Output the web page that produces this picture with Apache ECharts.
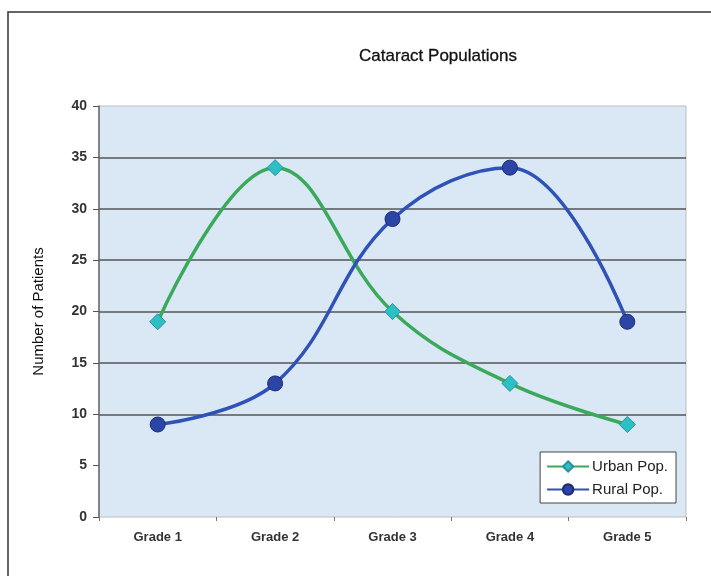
<!DOCTYPE html>
<html>
<head>
<meta charset="utf-8">
<script src="https://cdn.jsdelivr.net/npm/echarts@6/dist/echarts.min.js"></script>
<style>
    html, body { margin: 0; padding: 0; background: #fff; }
    #chart { width: 711px; height: 576px; }
</style>
</head>
<body>
<div id="chart"></div>
<script>
    var categories = ['Grade 1', 'Grade 2', 'Grade 3', 'Grade 4', 'Grade 5'];
    var urbanPop = [19, 34, 20, 13, 9];
    var ruralPop = [9, 13, 29, 34, 19];
    var yTicks = [0, 40, 5];  // min, max, interval

    var chart = echarts.init(document.getElementById('chart'));

    // grid lines only between 10 and 35, like the original
    var gridColors = [];
    for (var v = yTicks[0]; v <= yTicks[1]; v += yTicks[2]) {
        gridColors.push(v >= 10 && v <= 35 ? '#555' : 'rgba(0,0,0,0)');
    }

    var option = {
        backgroundColor: '#fff',
        animation: false,
        textStyle: { fontFamily: 'Liberation Sans, Arial, sans-serif' },
        graphic: [
            {
                type: 'rect',
                shape: { x: 8, y: 12, width: 720, height: 590 },
                style: { fill: 'none', stroke: '#333', lineWidth: 1.5 },
                z: -1
            }
        ],
        title: {
            text: 'Cataract Populations',
            left: 433,
            top: 43,
            textAlign: 'center',
            textStyle: { fontSize: 17, fontWeight: 'normal', color: '#111', textBorderColor: '#111', textBorderWidth: 0.3 }
        },
        legend: {
            right: 35,
            top: 452,
            orient: 'vertical',
            itemWidth: 42,
            itemHeight: 13,
            itemGap: 8,
            padding: [7, 8, 6, 6],
            backgroundColor: '#fff',
            borderColor: '#444',
            borderWidth: 1,
            textStyle: { fontSize: 15, color: '#222', padding: [0, 0, 0, -2] },
            data: ['Urban Pop.', 'Rural Pop.']
        },
        grid: {
            left: 99,
            right: 25,
            top: 106,
            bottom: 59,
            show: true,
            backgroundColor: '#dae8f6',
            borderColor: '#bdbdbd',
            borderWidth: 1
        },
        xAxis: {
            type: 'category',
            data: categories,
            boundaryGap: true,
            axisLine: { show: false },
            axisTick: { show: true, length: 4, lineStyle: { color: '#777' } },
            axisLabel: { fontSize: 13, color: '#333', fontWeight: 'bold', margin: 14 }
        },
        yAxis: {
            type: 'value',
            min: yTicks[0],
            max: yTicks[1],
            interval: yTicks[2],
            name: 'Number of Patients',
            nameLocation: 'middle',
            nameGap: 53,
            nameTextStyle: { fontSize: 15, color: '#111' },
            axisLine: { show: true, lineStyle: { color: '#666', width: 1.5 } },
            axisTick: { show: true, length: 6, lineStyle: { color: '#555' } },
            axisLabel: { fontSize: 14, color: '#333', fontWeight: 'bold', margin: 12 },
            splitLine: { show: true, lineStyle: { color: gridColors, width: 1.5 } }
        },
        series: [
            {
                name: 'Urban Pop.',
                type: 'line',
                data: urbanPop,
                smooth: 0.4,
                symbol: 'diamond',
                symbolSize: 16,
                lineStyle: { color: '#3aa95a', width: 3.5 },
                itemStyle: { color: '#2cbfc3', borderColor: '#2a8fa0', borderWidth: 1 }
            },
            {
                name: 'Rural Pop.',
                type: 'line',
                data: ruralPop,
                smooth: 0.4,
                symbol: 'circle',
                symbolSize: 15,
                lineStyle: { color: '#2f52b6', width: 3.5 },
                itemStyle: { color: '#2b45a6', borderColor: '#1c2b6e', borderWidth: 1 }
            }
        ]
    };

    chart.setOption(option);
</script>
</body>
</html>
